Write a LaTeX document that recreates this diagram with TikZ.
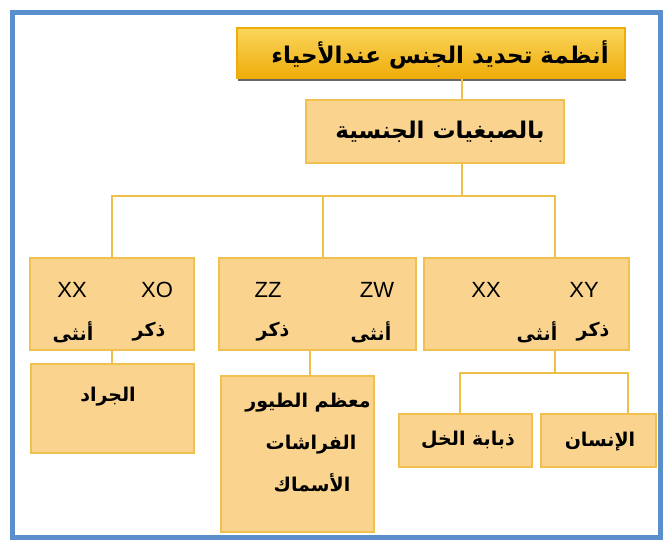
\documentclass[tikz,border=0pt]{standalone}
\usepackage{fontspec}
\setmainfont{Liberation Sans}
\newfontfamily\arabicfont[Script=Arabic]{DejaVu Sans}
\usepackage{tikz}
\usetikzlibrary{shadows}
\TeXXeTstate=1
\definecolor{SexBlue}{HTML}{5A8FCC}
\definecolor{SexGoldTop}{HTML}{FAD65C}
\definecolor{SexGoldBot}{HTML}{EFAC0A}
\definecolor{SexPeach}{HTML}{FAD48F}
\definecolor{SexEdge}{HTML}{F1C14F}
\definecolor{SexLine}{HTML}{EEC04A}
\newcommand{\artext}[1]{\beginR #1\endR}

\begin{document}
\begin{tikzpicture}[x=1pt,y=-1pt,
  box/.style={draw=SexEdge,fill=SexPeach,line width=1.2pt,inner sep=0pt},
  link/.style={draw=SexLine,line width=1.2pt},
  artxt/.style={font=\arabicfont\bfseries\fontsize{19}{22}\selectfont,inner sep=0pt},
  lattxt/.style={font=\fontsize{22}{26}\selectfont,inner sep=0pt}]
\useasboundingbox (0,0) rectangle (667,542);
\draw[SexBlue,line width=5pt] (12,12) rectangle (660,537);
% boxes
\node[box,draw=SexGoldBot,top color=SexGoldTop,bottom color=SexGoldBot,drop shadow={shadow xshift=1pt,shadow yshift=-3pt,opacity=.8,fill=black!75},minimum width=388,minimum height=50] (title) at (431,53) {};
\node[box,minimum width=258,minimum height=63] (chrom) at (435,131.5) {};
\node[box,minimum width=164,minimum height=92] (grpL) at (112,304) {};
\node[box,minimum width=197,minimum height=92] (grpM) at (317.5,304) {};
\node[box,minimum width=205,minimum height=92] (grpR) at (526.5,304) {};
\node[box,minimum width=163,minimum height=89] (locust) at (112.5,408.5) {};
\node[box,minimum width=153,minimum height=156] (birds) at (297.5,454) {};
\node[box,minimum width=133,minimum height=53] (fly) at (465.5,440.5) {};
\node[box,minimum width=115,minimum height=53] (human) at (598.5,440.5) {};
% connectors
\coordinate (spine) at (462,196);
\coordinate (hub) at (555,373);
\draw[link] (title.south -| spine) -- (chrom.north -| spine);
\draw[link] (chrom.south -| spine) -- (spine);
\draw[link] (grpL.north) |- (spine) -| ([xshift=28.5pt]grpR.north);
\draw[link] ([xshift=5.5pt]grpM.north) -- ([xshift=5.5pt]grpM.north |- spine);
\draw[link] (grpL.south) -- (grpL.south |- locust.north);
\draw[link] ([xshift=12.5pt]birds.north) -- ([xshift=12.5pt]birds.north |- grpM.south);
\draw[link] (grpR.south -| hub) -- (hub);
\draw[link] ([xshift=-5.5pt]fly.north) |- (hub) -| ([xshift=29.5pt]human.north);
% texts
\node[artxt,font=\arabicfont\bfseries\fontsize{23}{26}\selectfont] (titleTxt) at (440,55) {\artext{أنظمة تحديد الجنس عندالأحياء}};
\node[artxt,font=\arabicfont\bfseries\fontsize{23}{26}\selectfont] (chromTxt) at (440,132) {\artext{بالصبغيات الجنسية}};
\node[lattxt] (lxx) at (72,290) {XX};
\node[lattxt] (lxo) at (157,290) {XO};
\node[artxt] (lfem) at (73,332) {\artext{أنثى}};
\node[artxt] (lmale) at (149,332) {\artext{ذكر}};
\node[lattxt] (mzz) at (268,290) {ZZ};
\node[lattxt] (mzw) at (377,290) {ZW};
\node[artxt] (mmale) at (273,332) {\artext{ذكر}};
\node[artxt] (mfem) at (371,332) {\artext{أنثى}};
\node[lattxt] (rxx) at (486,290) {XX};
\node[lattxt] (rxy) at (584,290) {XY};
\node[artxt] (rfem) at (537,332) {\artext{أنثى}};
\node[artxt] (rmale) at (593,332) {\artext{ذكر}};
\node[artxt] (locustTxt) at (108,397) {\artext{الجراد}};
\node[artxt] (birdsTxt) at (308,403) {\artext{معظم الطيور}};
\node[artxt] (mothTxt) at (311,445) {\artext{الفراشات}};
\node[artxt] (fishTxt) at (312,483) {\artext{الأسماك}};
\node[artxt] (flyTxt) at (468,440) {\artext{ذبابة الخل}};
\node[artxt] (humanTxt) at (600,442) {\artext{الإنسان}};
\end{tikzpicture}
\end{document}
